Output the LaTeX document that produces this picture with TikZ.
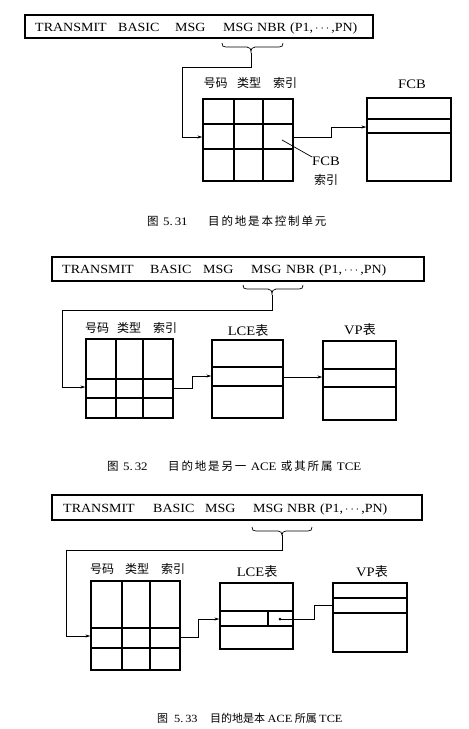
\documentclass[tikz,border=0pt]{standalone}
\usepackage{fontspec}
\setmainfont{Liberation Serif}
\newfontfamily\cjk{Noto Sans CJK SC}
\newfontfamily\cjkcap[LetterSpace=16]{Noto Sans CJK SC}
\newfontfamily\hdrfont[FakeStretch=1.12]{Liberation Serif}
\usetikzlibrary{arrows.meta,fit}
\begin{document}
\begin{tikzpicture}[x=1pt,y=-1pt,
  box/.style={draw, line width=1.2pt, inner sep=0pt},
  grid/.style={line width=1.2pt},
  conn/.style={line width=0.7pt},
  arr/.style={line width=0.7pt, -{Stealth[length=5pt,width=3pt]}},
  word/.style={font=\hdrfont\fontsize{12.5}{12.5}\selectfont, inner sep=0pt, anchor=base west},
  lab/.style={font=\cjk\fontsize{12}{12}\selectfont, inner sep=0pt},
  elab/.style={font=\hdrfont\fontsize{13}{13}\selectfont, inner sep=0pt},
  captext/.style={font=\cjkcap\fontsize{11.5}{11.5}\selectfont, inner sep=0pt, anchor=base west},
  capnum/.style={font=\hdrfont\fontsize{11.5}{11.5}\selectfont, inner sep=0pt, anchor=base west},
  bracepath/.style={line width=0.7pt}]
\useasboundingbox (0,0) rectangle (469,729);

% ================= Figure 5.31 =================
\node[box, fit={(25,15)(373,38)}] (h1) {};
\node[word] (h1a) at (35,31.5) {TRANSMIT};
\node[word] (h1b) at (118,31.5) {BASIC};
\node[word] (h1c) at (175,31.5) {MSG};
\node[word] (h1d) at (223,31.5) {MSG};
\node[word] (h1e) at (257,31.5) {NBR};
\node[word] (h1f) at (290,31.5) {(P1,\,$\cdots$\,,PN)};
\coordinate (b1) at (251,53);
\draw[bracepath] (222,43) .. controls (222,46) and (223,47) .. (226,47) -- (247,47)
  .. controls (250,47) and (251,49) .. (b1) .. controls (251,49) and (252,47) .. (255,47)
  -- (279,47) .. controls (282,47) and (283,46) .. (283,43);
\node[box, fit={(203,99)(293,181)}] (t1) {};
\draw[grid] (234,99) -- (234,181) (263,99) -- (263,181) (203,124) -- (293,124) (203,149) -- (293,149);
\node[lab] (t1x) at (215.5,83) {号码};
\node[lab] (t1y) at (249,83) {类型};
\node[lab] (t1z) at (285,83) {索引};
\draw[arr] (b1) -- (251,67) -- (182,67) -- (182,137) -- (t1.west |- 0,137);
\node[box, fit={(367,98)(451,181)}] (f1) {};
\draw[grid] (367,119) -- (451,119) (367,133) -- (451,133);
\node[elab] (f1l) at (412,84) {FCB};
\draw[arr] (t1.east |- 0,137) -- (331,137) -- (331,127) -- (f1.west |- 0,127);
\coordinate (p1) at (282,140);
\node[elab, anchor=north] (fi1) at (326,157) {FCB};
\node[lab, anchor=north] (fi2) at (326,174) {索引};
\draw[conn] (p1) -- (fi1.north west);
\node[captext] (c1a) at (147,225) {图};
\node[capnum] (c1b) at (163,225) {5.\,31};
\node[captext] (c1c) at (208,225) {目的地是本控制单元};

% ================= Figure 5.32 =================
\node[box, fit={(52,257)(424,281)}] (h2) {};
\node[word] (h2a) at (62,273.5) {TRANSMIT};
\node[word] (h2b) at (150,273.5) {BASIC};
\node[word] (h2c) at (203,273.5) {MSG};
\node[word] (h2d) at (251,273.5) {MSG};
\node[word] (h2e) at (286,273.5) {NBR};
\node[word] (h2f) at (319,273.5) {(P1,\,$\cdots$\,,PN)};
\coordinate (b2) at (272,295);
\draw[bracepath] (243,285) .. controls (243,288) and (244,289) .. (247,289) -- (268,289)
  .. controls (271,289) and (272,291) .. (b2) .. controls (272,291) and (273,289) .. (276,289)
  -- (299,289) .. controls (302,289) and (303,288) .. (303,285);
\node[box, fit={(86,339)(173,418)}] (t2) {};
\draw[grid] (116,339) -- (116,418) (143,339) -- (143,418) (86,379) -- (173,379) (86,398) -- (173,398);
\node[lab] (t2x) at (97,328) {号码};
\node[lab] (t2y) at (129,328) {类型};
\node[lab] (t2z) at (165,328) {索引};
\draw[arr] (b2) -- (272,310) -- (62,310) -- (62,387) -- (t2.west |- 0,387);
\node[box, fit={(212,340)(283,418)}] (l2) {};
\draw[grid] (212,367) -- (283,367) (212,386) -- (283,386);
\node[elab] (l2l) at (248,331) {LCE{\cjk 表}};
\draw[arr] (t2.east |- 0,388) -- (192,388) -- (192,376) -- (l2.west |- 0,376);
\node[box, fit={(323,341)(396,420)}] (v2) {};
\draw[grid] (323,369) -- (396,369) (323,387) -- (396,387);
\node[elab] (v2l) at (360,330) {VP{\cjk 表}};
\draw[arr] (l2.east |- 0,377) -- (v2.west |- 0,377);
\node[captext] (c2a) at (107,470) {图};
\node[capnum] (c2b) at (123,470) {5.\,32};
\node[captext] (c2c) at (168,470) {目的地是另一 {\hdrfont ACE} 或其所属 {\hdrfont TCE}};

% ================= Figure 5.33 =================
\node[box, fit={(52,495)(422,520)}] (h3) {};
\node[word] (h3a) at (63,512) {TRANSMIT};
\node[word] (h3b) at (153,512) {BASIC};
\node[word] (h3c) at (205,512) {MSG};
\node[word] (h3d) at (253,512) {MSG};
\node[word] (h3e) at (287,512) {NBR};
\node[word] (h3f) at (320,512) {(P1,\,$\cdots$\,,PN)};
\coordinate (b3) at (282,535);
\draw[bracepath] (252,527) .. controls (252,530) and (253,531) .. (256,531) -- (278,531)
  .. controls (281,531) and (282,533) .. (b3) .. controls (282,533) and (283,531) .. (286,531)
  -- (308,531) .. controls (311,531) and (312,530) .. (312,527);
\node[box, fit={(91,581)(180,670)}] (t3) {};
\draw[grid] (122,581) -- (122,670) (150,581) -- (150,670) (91,628) -- (180,628) (91,648) -- (180,648);
\node[lab] (t3x) at (102,569) {号码};
\node[lab] (t3y) at (137,569) {类型};
\node[lab] (t3z) at (173,569) {索引};
\draw[arr] (b3) -- (282,550) -- (66,550) -- (66,636) -- (t3.west |- 0,636);
\node[box, fit={(220,583)(293,649)}] (l3) {};
\draw[grid] (220,611) -- (293,611) (220,626) -- (293,626) (268,611) -- (268,626);
\node[elab] (l3l) at (257,572) {LCE{\cjk 表}};
\draw[arr] (t3.east |- 0,637) -- (198,637) -- (198,619) -- (l3.west |- 0,619);
\node[box, fit={(333,583)(407,652)}] (v3) {};
\draw[grid] (333,598) -- (407,598) (333,613) -- (407,613);
\node[elab] (v3l) at (372,572) {VP{\cjk 表}};
\coordinate (d3) at (280,619);
\fill (d3) circle (1.5pt);
\draw[conn] (d3) -- (314,619) -- (314,605) -- (v3.west |- 0,605);
\node[captext, font=\cjk\fontsize{11}{11}\selectfont] (c3a) at (157,722) {图};
\node[capnum, font=\hdrfont\fontsize{11}{11}\selectfont] (c3b) at (174,722) {5.\,33};
\node[captext, font=\cjk\fontsize{11}{11}\selectfont] (c3c) at (210,722) {目的地是本 {\hdrfont ACE} 所属 {\hdrfont TCE}};
\end{tikzpicture}
\end{document}
